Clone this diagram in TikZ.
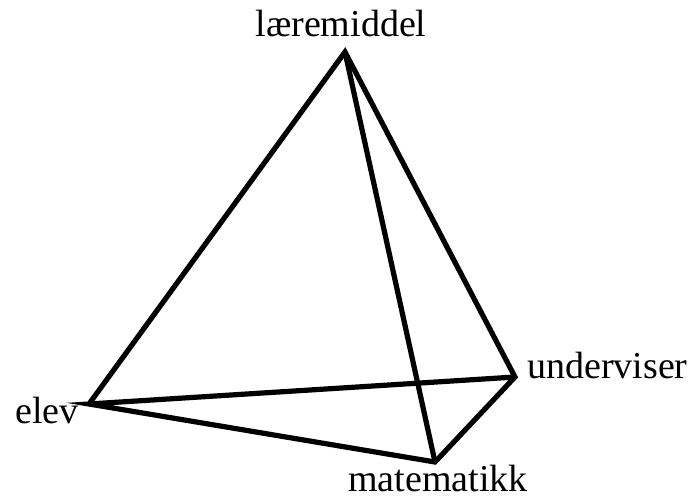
\documentclass[tikz,border=0pt]{standalone}
\usepackage{fontspec}
\setmainfont{Liberation Serif}
\begin{document}
\begin{tikzpicture}[x=1pt,y=-1pt,
  edge/.style={line width=5.2pt,line join=miter,line cap=butt},
  lbl/.style={font=\fontsize{38}{40}\selectfont,inner sep=0pt,anchor=base}]
\useasboundingbox (0,0) rectangle (694,500);
\coordinate (T) at (345,52);
\coordinate (E) at (89,404);
\coordinate (U) at (515,377);
\coordinate (M) at (435,462);
\node[lbl] (lT) at (341,37) {læremiddel};
\node[lbl,anchor=base west] (lE) at (15,423) {elev};
\node[lbl,anchor=base west] (lU) at (527,378) {underviser};
\node[lbl,anchor=base west] (lM) at (348,491) {matematikk};
\draw[edge] (E) -- (T) -- (U) -- (M) -- (E) -- (U);
\draw[edge] (T) -- (M);
\end{tikzpicture}
\end{document}
